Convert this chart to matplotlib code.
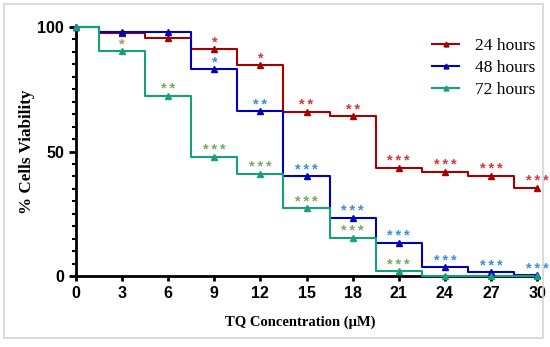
import numpy as np
import matplotlib
matplotlib.use("Agg")
import matplotlib.pyplot as plt
from matplotlib.patches import Rectangle

conc = [0, 3, 6, 9, 12, 15, 18, 21, 24, 27, 30]
h24 = [100, 97.6, 95.7, 91, 84.6, 65.9, 64.2, 43.4, 41.9, 40.2, 35.5]
h48 = [100, 97.9, 97.9, 83.3, 66.1, 40.0, 23.4, 13.4, 3.5, 1.6, 0.4]
h72 = [100, 90.5, 72.4, 47.9, 41.0, 27.2, 15.4, 2.0, 0.0, 0.0, 0.0]

sig24 = ['', '', '', '*', '*', '**', '**', '***', '***', '***', '***']
sig48 = ['', '', '', '*', '**', '***', '***', '***', '***', '***', '***']
sig72 = ['', '*', '**', '***', '***', '***', '***', '***', '', '', '']

xticks = [0, 3, 6, 9, 12, 15, 18, 21, 24, 27, 30]

fig = plt.figure(figsize=(5.5, 3.47), dpi=100)
fig.patches.append(Rectangle((4/550, 1 - 338/347), 539/550, 334/347,
                             transform=fig.transFigure, fill=False,
                             edgecolor='#d4d4d4', linewidth=1.2))
ax = fig.add_axes([0.1382, 0.2046, 0.8382, 0.7176])

series = [(h24, sig24, '#a30000', '#d03a3a', '24 hours'),
          (h48, sig48, '#0000b4', '#3a8ed8', '48 hours'),
          (h72, sig72, '#16a077', '#7aa85a', '72 hours')]

for vals, sig, col, scol, lab in series:
    ax.step(conc, vals, where='mid', color=col, lw=1.5, clip_on=False, zorder=3)
    ax.plot(conc, vals, ls='none', marker='^', ms=4, color=col, clip_on=False, zorder=4)
    ax.plot([], [], color=col, lw=1.5, marker='^', ms=3.5, label=lab)
    for x, v, s in zip(conc, vals, sig):
        if s:
            ax.text(x, v + 1.0, '\u2009'.join(s), color=scol, ha='center', va='baseline',
                    fontsize=10.5, fontweight='bold',
                    family=['Liberation Sans', 'DejaVu Sans'])

ax.set_xlim(0, 30)
ax.set_ylim(0, 100)
ax.set_xticks(xticks)
ax.set_yticks([0, 50, 100])
ax.set_yticks(np.arange(0, 101, 5), minor=True)
for sp in ['top', 'right']:
    ax.spines[sp].set_visible(False)
for sp in ['left', 'bottom']:
    ax.spines[sp].set_linewidth(2)
ax.tick_params(axis='y', which='major', direction='out', width=2, length=5, labelsize=11.5)
ax.tick_params(axis='x', which='major', direction='out', width=2, length=3.5, labelsize=11.5, pad=4)
ax.tick_params(axis='y', which='minor', direction='out', width=1.5, length=3)
for t in ax.get_xticklabels() + ax.get_yticklabels():
    t.set_fontweight('bold')
    t.set_family('Liberation Sans')

ax.set_xlabel('TQ Concentration (μM)', family='Liberation Serif', fontweight='bold',
              fontsize=10.5, labelpad=8)
ax.xaxis.set_label_coords(0.487, -0.16)
ax.set_ylabel('% Cells Viability', family='Liberation Serif', fontweight='bold',
              fontsize=12.3, labelpad=2)

ax.legend(loc='upper right', bbox_to_anchor=(1.03, 1.02), frameon=False,
          prop={'family': 'Liberation Serif', 'size': 12.5},
          handlelength=1.55, handletextpad=0.9, labelspacing=0.35)

fig.savefig('out.png', dpi=100)
